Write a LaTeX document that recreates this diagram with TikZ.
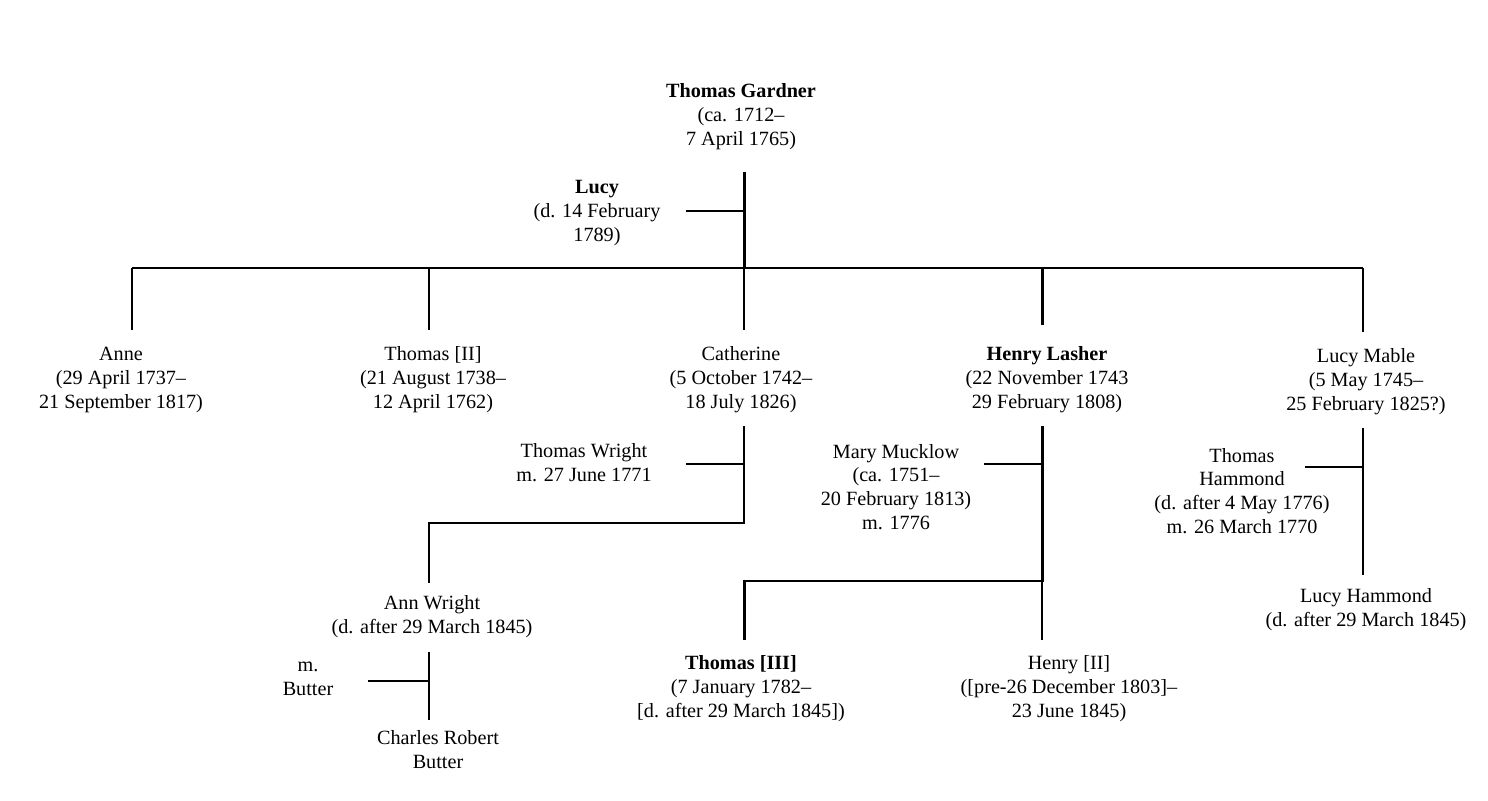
\documentclass[tikz,border=0pt]{standalone}
\usepackage{fontspec}
\setmainfont{Liberation Serif}
\begin{document}
\begin{tikzpicture}[x=0.02cm,y=-0.02cm,
  p/.style={align=center,font=\fontsize{11.5}{13.6}\selectfont,inner sep=1pt},
  thin/.style={line width=0.85pt},
  thick/.style={line width=1.7pt}]
\useasboundingbox (0,0) rectangle (1488,801);
\node[p] (tg) at (741,117) {\textbf{Thomas Gardner}\\(ca. 1712–\\7 April 1765)};
\node[p] (lucy) at (597,213) {\textbf{Lucy}\\(d. 14 February\\1789)};
\node[p] (anne) at (121,380) {Anne\\(29 April 1737–\\21 September 1817)};
\node[p] (th2) at (433,380) {Thomas [II]\\(21 August 1738–\\12 April 1762)};
\node[p] (cat) at (741,380) {Catherine\\(5 October 1742–\\18 July 1826)};
\node[p] (hl) at (1047,380) {\textbf{Henry Lasher}\\(22 November 1743\\29 February 1808)};
\node[p] (lm) at (1366,382) {Lucy Mable\\(5 May 1745–\\25 February 1825?)};
\node[p] (tw) at (584,463) {Thomas Wright\\m. 27 June 1771};
\node[p] (mm) at (896,487) {Mary Mucklow\\(ca. 1751–\\20 February 1813)\\m. 1776};
\node[p] (thm) at (1242,491) {Thomas\\Hammond\\(d. after 4 May 1776)\\m. 26 March 1770};
\node[p] (aw) at (432,617) {Ann Wright\\(d. after 29 March 1845)};
\node[p] (lh) at (1366,610) {Lucy Hammond\\(d. after 29 March 1845)};
\node[p] (mb) at (308,679) {m.\\Butter};
\node[p] (crb) at (438,750) {Charles Robert\\Butter};
\node[p] (th3) at (741,689) {\textbf{Thomas [III]}\\(7 January 1782–\\{[d. after 29 March 1845])}};
\node[p] (h2) at (1069,689) {Henry [II]\\({[pre-26 December 1803]}–\\23 June 1845)};
% generation 1
\coordinate (j0) at (744,268);
\coordinate (l0) at (744,211);
\draw[thick] (744,172) -- (j0);
\draw[thin] (686,211) -- (l0);
\draw[thin] (132,268) -- (744,268);
\draw[thin] (1042,268) -- (1363,268);
\draw[thick] (744,268) -- (1042,268) -- (1042,325);
\draw[thin] (132,268) -- (132,330);
\draw[thin] (429,268) -- (429,330);
\draw[thin] (744,268) -- (744,330);
\draw[thin] (1363,268) -- (1363,332);
% Catherine
\draw[thin] (744,426) -- (744,523) -- (429,523) -- (429,583);
\draw[thin] (686,464) -- (744,464);
% Henry
\draw[thick] (1042,426) -- (1042,581) -- (744,581) -- (744,640);
\draw[thin] (1042,581) -- (1042,640);
\draw[thin] (984,464) -- (1042,464);
% Lucy Mable
\draw[thin] (1363,428) -- (1363,575);
\draw[thin] (1305,467) -- (1363,467);
% Ann Wright
\draw[thin] (429,652) -- (429,720);
\draw[thin] (368,681) -- (429,681);
\end{tikzpicture}
\end{document}
